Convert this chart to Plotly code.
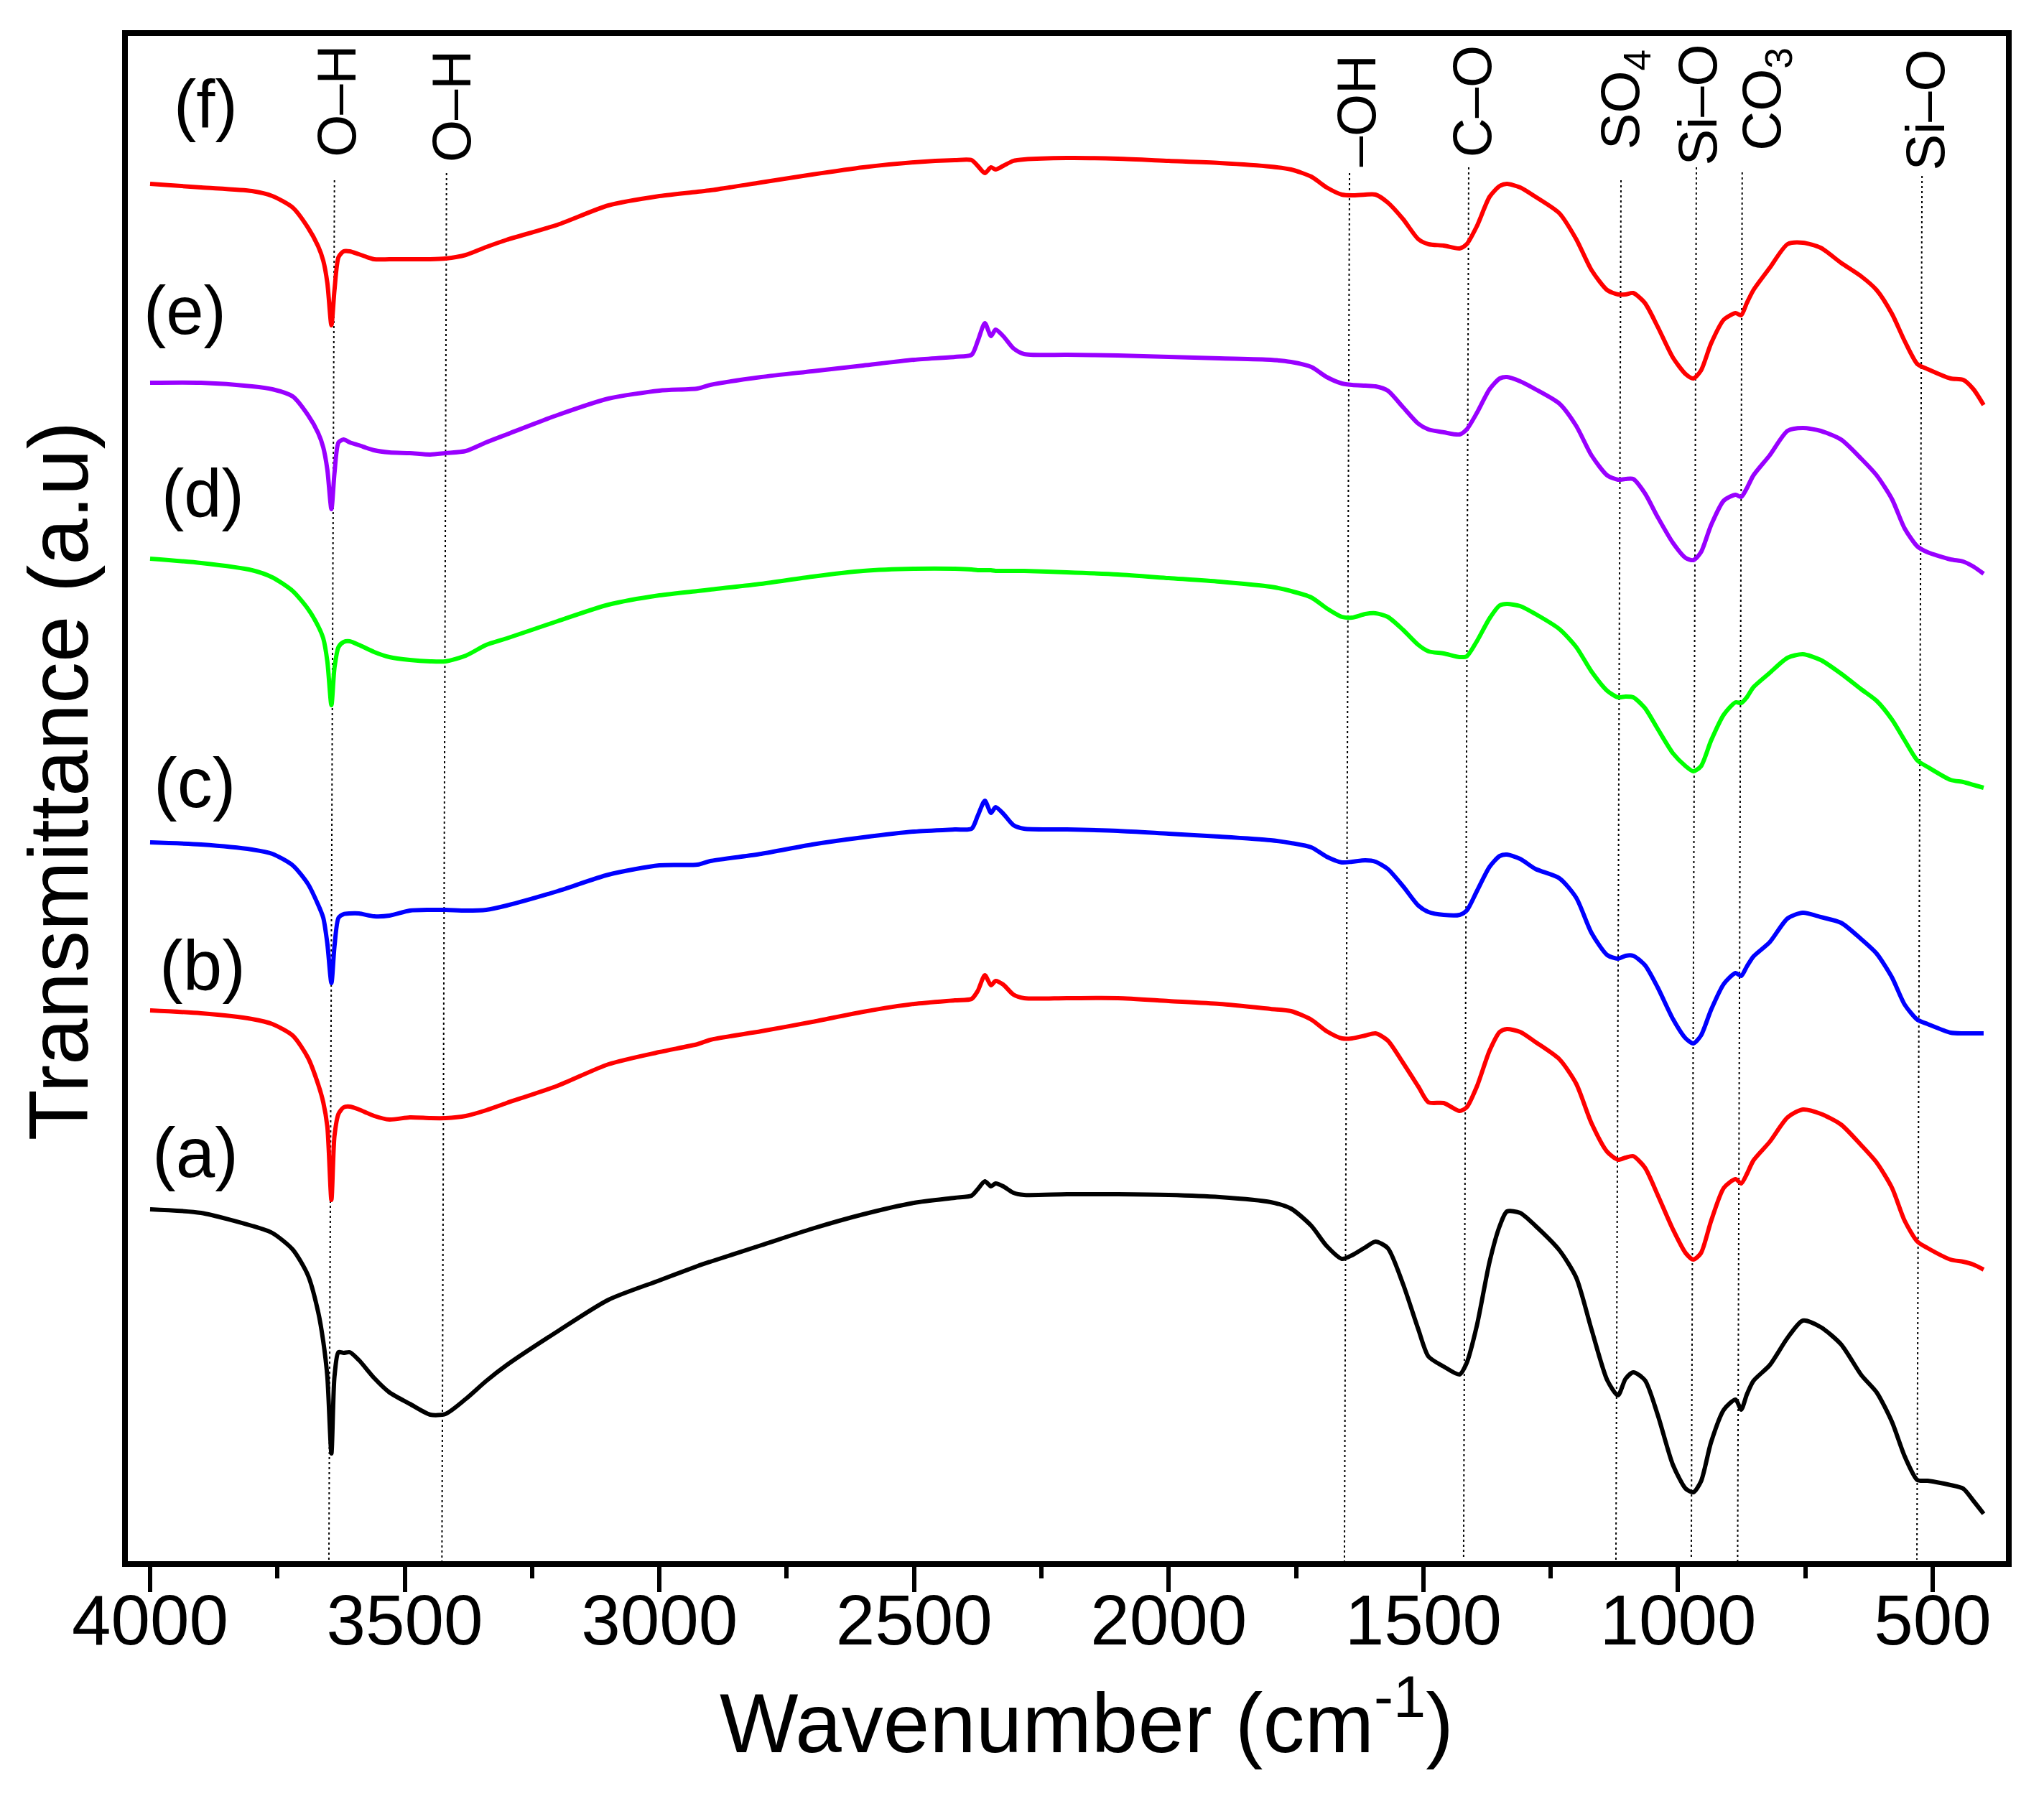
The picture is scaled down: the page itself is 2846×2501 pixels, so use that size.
import plotly.graph_objects as go

# Eje x comun (cm-1)
wavenumber = [4000, 3900, 3800, 3760, 3720, 3690, 3670, 3660, 3652, 3644, 3638, 3630, 3620, 3608, 3590, 3560, 3530,
              3490, 3450, 3420, 3380, 3340, 3300, 3200, 3100, 3000, 2925,
              2900, 2800, 2700, 2600, 2500, 2420, 2387, 2375, 2361, 2349, 2340, 2325, 2305, 2284, 2200, 2100, 2000,
              1900, 1800, 1760, 1720, 1690, 1660, 1640,
              1614, 1594, 1570, 1540, 1510, 1490, 1460, 1429, 1415, 1395, 1370, 1350, 1336, 1310, 1280, 1233, 1200,
              1170, 1139, 1118, 1103, 1088, 1065, 1040, 1010, 985, 970, 955, 935, 910, 887, 876, 865, 852, 820, 785,
              755, 720, 680, 640, 610, 580, 555, 530, 510, 465, 440, 420, 400]

# Transmitancia en unidades arbitrarias
curve_a = [490, 485, 467, 457, 434, 398, 347, 306, 257, 150, 257, 291, 290, 291, 280, 255, 235, 219, 204, 205, 226,
           251, 273, 320, 364, 391, 411,
           417, 440, 463, 483, 499, 506, 509, 518, 529, 522, 526, 522, 513, 510, 511, 511, 510, 507, 500, 491, 467,
           439, 421, 426,
           437, 445, 436, 386, 323, 285, 271, 260, 276, 328, 417, 467, 487, 485, 467, 433, 395, 323, 252, 231, 254,
           263, 252, 204, 134, 101, 96, 111, 166, 211, 225, 211, 232, 251, 273, 311, 335, 326, 302, 259, 235, 194,
           146, 113, 112, 106, 101, 84, 66]
curve_b = [767, 763, 755, 748, 732, 701, 664, 639, 605, 503, 592, 623, 632, 633, 629, 620, 615, 618, 617, 617, 620,
           628, 638, 662, 692, 709, 720,
           726, 738, 751, 765, 776, 781, 783, 794, 816, 802, 808, 803, 789, 784, 784, 784, 780, 776, 769, 766, 754,
           738, 728, 728,
           732, 735, 725, 694, 661, 639, 638, 627, 632, 661, 711, 737, 741, 737, 723, 699, 665, 610, 570, 559, 562,
           564, 548, 510, 462, 429, 420, 429, 474, 520, 532, 526, 539, 558, 584, 618, 629, 623, 608, 579, 555, 520,
           474, 445, 436, 420, 417, 413, 406]
curve_c = [1001, 998, 991, 985, 969, 943, 914, 896, 860, 805, 856, 896, 901, 902, 902, 898, 899, 906, 907, 907, 906,
           907, 913, 933, 956, 969, 970,
           975, 985, 998, 1008, 1016, 1019, 1020, 1038, 1059, 1042, 1050, 1041, 1025, 1020, 1019, 1017, 1013, 1009,
           1004, 1000, 994, 981, 973, 974,
           976, 974, 964, 940, 913, 904, 900, 900, 906, 933, 967, 982, 984, 978, 964, 951, 924, 875, 844, 839, 843,
           843, 830, 799, 755, 728, 721, 732, 768, 804, 819, 815, 828, 842, 862, 895, 903, 897, 889, 866, 846, 813,
           775, 754, 748, 736, 735, 735, 735]
curve_d = [1396, 1390, 1380, 1370, 1351, 1326, 1302, 1285, 1253, 1192, 1244, 1273, 1280, 1281, 1276, 1266, 1259,
           1255, 1253, 1253, 1261, 1276, 1285, 1309, 1332, 1345, 1351,
           1353, 1361, 1371, 1379, 1382, 1382, 1381, 1380, 1380, 1380, 1379, 1379, 1379, 1379, 1377, 1374, 1369,
           1364, 1357, 1351, 1342, 1327, 1315, 1314,
           1319, 1320, 1315, 1297, 1276, 1267, 1264, 1259, 1260, 1281, 1313, 1331, 1333, 1330, 1319, 1298, 1273,
           1239, 1212, 1203, 1204, 1203, 1188, 1159, 1125, 1107, 1100, 1107, 1143, 1179, 1196, 1195, 1203, 1217,
           1237, 1258, 1263, 1255, 1236, 1214, 1198, 1172, 1143, 1115, 1106, 1088, 1085, 1081, 1077]
curve_e = [1641, 1641, 1636, 1632, 1622, 1596, 1571, 1551, 1520, 1465, 1515, 1558, 1562, 1558, 1554, 1547, 1544,
           1543, 1541, 1543, 1546, 1558, 1569, 1596, 1619, 1630, 1633,
           1638, 1649, 1657, 1665, 1673, 1677, 1680, 1699, 1724, 1706, 1715, 1706, 1689, 1681, 1680, 1679, 1677,
           1675, 1673, 1670, 1663, 1649, 1640, 1638,
           1637, 1636, 1630, 1607, 1584, 1576, 1572, 1569, 1576, 1599, 1632, 1647, 1649, 1643, 1632, 1612, 1581,
           1540, 1512, 1506, 1507, 1507, 1487, 1454, 1418, 1397, 1394, 1405, 1443, 1477, 1485, 1482, 1494, 1512,
           1540, 1574, 1578, 1574, 1562, 1535, 1512, 1479, 1438, 1413, 1405, 1395, 1392, 1385, 1375]
curve_f = [1918, 1913, 1908, 1901, 1885, 1857, 1831, 1811, 1780, 1721, 1770, 1816, 1824, 1824, 1820, 1813, 1813,
           1813, 1813, 1814, 1819, 1830, 1840, 1861, 1888, 1901, 1907,
           1909, 1920, 1931, 1941, 1948, 1951, 1951, 1943, 1933, 1941, 1938, 1943, 1950, 1952, 1954, 1953, 1950,
           1947, 1942, 1938, 1928, 1913, 1903, 1902,
           1903, 1903, 1892, 1869, 1841, 1834, 1832, 1828, 1834, 1859, 1900, 1915, 1918, 1913, 1900, 1877, 1841,
           1798, 1770, 1764, 1764, 1766, 1752, 1719, 1676, 1653, 1647, 1658, 1696, 1729, 1738, 1735, 1752, 1770,
           1801, 1834, 1836, 1829, 1808, 1789, 1770, 1737, 1699, 1667, 1660, 1647, 1645, 1632, 1610]

curve_names = ['(a)', '(b)', '(c)', '(d)', '(e)', '(f)']
curve_colors = ['#000000', '#FF0000', '#0000FF', '#00FF00', '#9900FF', '#FF0000']
curves = [curve_a, curve_b, curve_c, curve_d, curve_e, curve_f]

# Posicion de las etiquetas (a)...(f)
label_x = [3911, 3897, 3913, 3897, 3931, 3891]
label_y = [569, 830, 1084, 1487, 1742, 2029]
label_size = [98, 98, 98, 94, 94, 94]

# Bandas: texto y lineas punteadas (ligeramente inclinadas en el original)
band_names = ['O\u2013H', 'O\u2013H', '\u2013OH', 'C\u2013O', 'SO<sub>4</sub>', 'Si\u2013O', 'CO<sub>3</sub>', 'Si\u2013O']
band_text_x = [3635, 3409, 1632, 1405, 1106, 962, 829, 515]
band_text_y = [2033, 2026, 2020, 2033, 2035, 2028, 2036, 2021]
band_top_x = [3638, 3418, 1645, 1411, 1112, 964, 874, 521]
band_bot_x = [3649, 3427, 1655, 1421, 1122, 974, 883, 531]
band_top_y = [1923, 1933, 1933, 1941, 1923, 1941, 1934, 1929]
band_bot_y = [-10, 0, 0, 6, -10, 6, 0, 2]

font_name = 'Liberation Sans'

fig = go.Figure()

for i in range(len(band_names)):
    fig.add_trace(go.Scatter(x=[band_top_x[i], band_bot_x[i]], y=[band_top_y[i], band_bot_y[i]], mode='lines',
                             line=dict(color='black', width=2, dash='3px,4px'), cliponaxis=False,
                             hoverinfo='skip', showlegend=False))

for name, color, values in zip(curve_names, curve_colors, curves):
    fig.add_trace(go.Scatter(x=wavenumber, y=values, mode='lines', name=name,
                             line=dict(color=color, width=6, shape='spline', smoothing=0.7),
                             showlegend=False))

for i, name in enumerate(curve_names):
    fig.add_annotation(x=label_x[i], y=label_y[i], text=name, showarrow=False,
                       font=dict(family=font_name, size=label_size[i], color='black'))

for i, name in enumerate(band_names):
    fig.add_annotation(x=band_text_x[i], y=band_text_y[i], text=name, showarrow=False, textangle=-90,
                       font=dict(family=font_name, size=76, color='black'))

# Titulos de ejes, descentrados respecto al area del grafico como en el original
fig.add_annotation(xref='paper', yref='paper', x=0.5105, y=-0.138, text='Wavenumber (cm<sup>-1</sup>)',
                   showarrow=False, font=dict(family=font_name, size=116, color='black'))
fig.add_annotation(xref='paper', yref='paper', x=-0.0625, y=0.5115, text='Transmittance (a.u)', textangle=-90,
                   showarrow=False, font=dict(family=font_name, size=116, color='black'))

fig.update_xaxes(range=[4043.7, 356.2], tickmode='array', tickvals=[4000, 3500, 3000, 2500, 2000, 1500, 1000, 500],
                 ticktext=['4000', '3500', '3000', '2500', '2000', '1500', '1000', '500'],
                 ticks='outside', ticklen=35, tickwidth=6, tickcolor='black', ticklabelstandoff=-45,
                 minor=dict(ticks='outside', ticklen=16, tickwidth=6, tickcolor='black',
                            tickvals=[3750, 3250, 2750, 2250, 1750, 1250, 750]),
                 tickfont=dict(family=font_name, size=98, color='black'),
                 showline=True, linewidth=8, linecolor='black', mirror=True,
                 showgrid=False, zeroline=False)
fig.update_yaxes(range=[0, 2124], showticklabels=False, ticks='',
                 showline=True, linewidth=8, linecolor='black', mirror=True,
                 showgrid=False, zeroline=False)

fig.update_layout(width=2846, height=2501, margin=dict(l=178, r=53, t=50, b=327, autoexpand=False),
                  paper_bgcolor='white', plot_bgcolor='white', showlegend=False)

# Sin el margen de 8 px que el navegador pone al body, y sin la barra de plotly
fig.write_html("out.html", config=dict(displayModeBar=False),
               post_script="document.body.style.margin='0';")
